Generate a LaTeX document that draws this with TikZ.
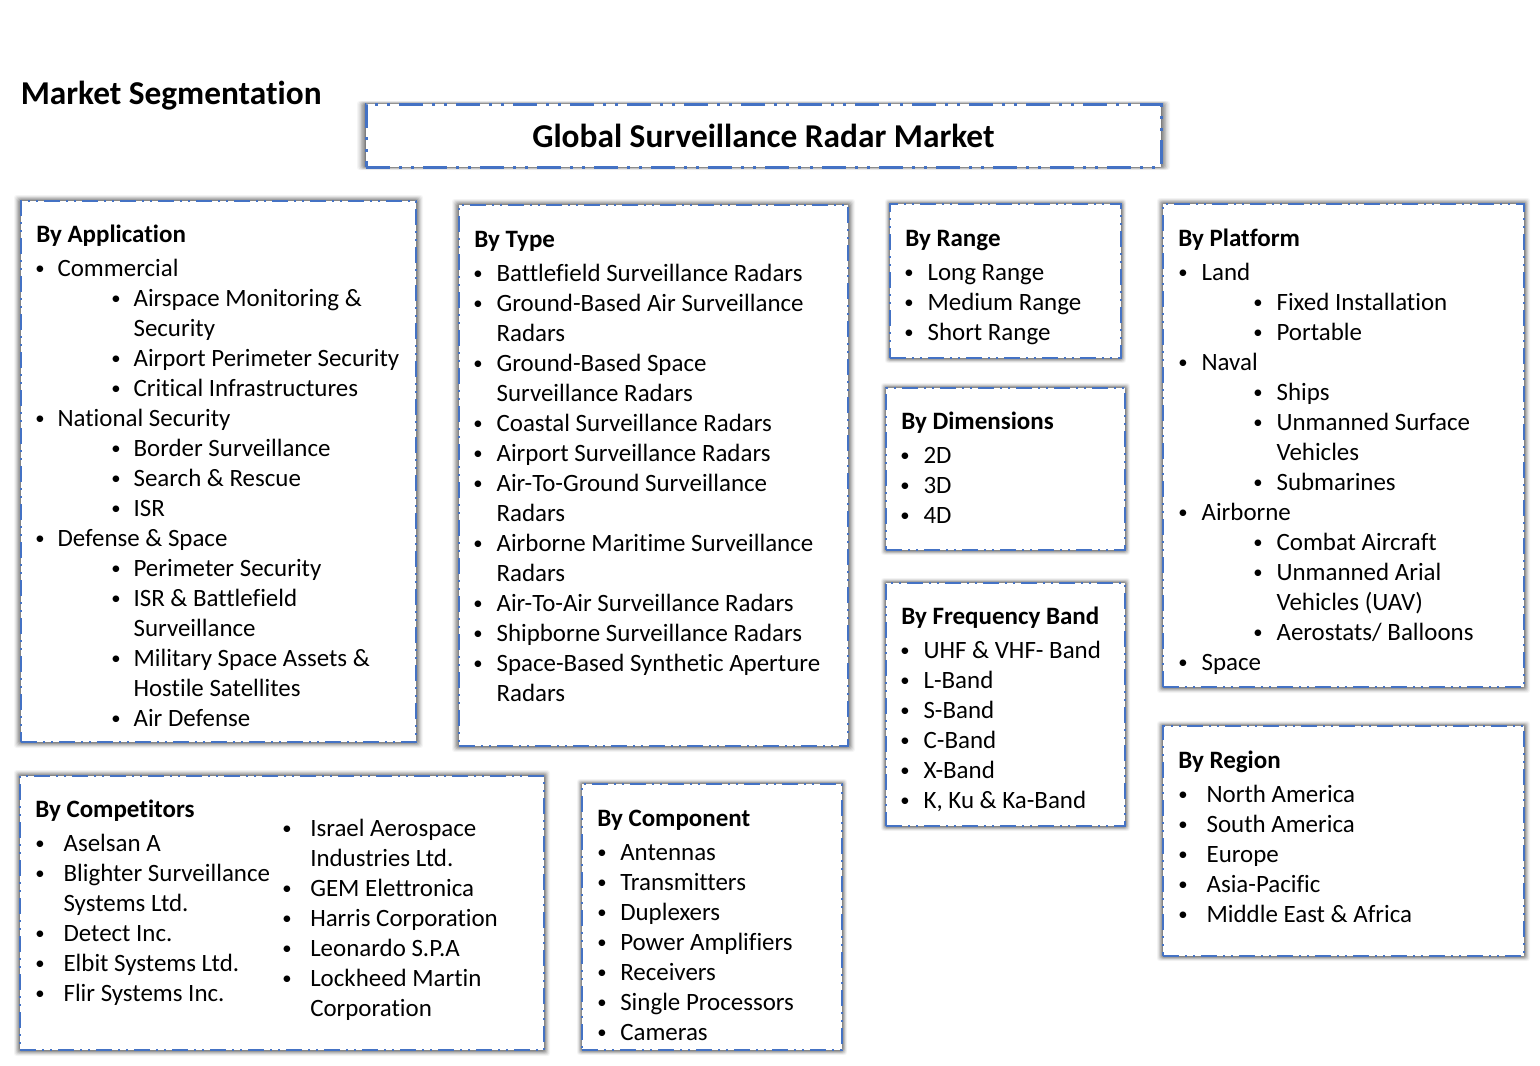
\documentclass[tikz,border=0pt]{standalone}
\usepackage{fontspec}
\setmainfont[Ligatures=NoCommon]{Carlito}
\usetikzlibrary{fit}
\definecolor{panelblue}{HTML}{4472C4}
\newcount\itemno
\tikzset{
  x=0.75pt,y=-0.75pt,
  panel/.style={draw=panelblue,fill=white,line width=1.5pt,inner sep=0pt,
    dash pattern=on 12pt off 4.5pt on 1.5pt off 4.5pt on 1.5pt off 4.5pt},
  title panel/.style={panel,line width=2.25pt,
    dash pattern=on 18pt off 6.75pt on 2.25pt off 6.75pt on 2.25pt off 6.75pt},
  line text/.style={anchor=base west,inner sep=0pt,font=\fontsize{18.7}{18.7}\selectfont},
  head text/.style={line text,font=\fontsize{18.75}{18.75}\selectfont\bfseries},
  big text/.style={anchor=base west,inner sep=0pt,font=\fontsize{25}{25}\selectfont\bfseries},
  dot/.style={anchor=base,inner sep=0pt,font=\fontsize{14}{14}\selectfont},
}
% #1 style, #2 name, #3-#6 corners, #7 #8 shadow reach across and down
\newcommand{\panelbox}[8]{%
  \foreach \r/\o in {1/0.04,0.85/0.06,0.7/0.08,0.55/0.10,0.4/0.12,0.25/0.13,0.1/0.14}{
    \fill[black,opacity=\o,rounded corners=2pt] ({#3-#7*\r},{#4-#8*\r}) rectangle ({#5+#7*\r},{#6+#8*\r});
  }
  \node[#1,fit={(#3,#4)(#5,#6)}] (#2) {};
}
\newcommand{\hd}[3]{\global\advance\itemno by 1
  \node[head text] (t\the\itemno) at (#1,#2+8) {#3};}
\newcommand{\li}[4]{\global\advance\itemno by 1
  \node[dot] (b\the\itemno) at (#1,#3+6) {•};
  \node[line text] (t\the\itemno) at (#2-0.7,#3+8) {#4};}
\newcommand{\co}[3]{\global\advance\itemno by 1
  \node[line text] (t\the\itemno) at (#1-0.7,#2+8) {#3};}
\begin{document}
\begin{tikzpicture}
\useasboundingbox (0,0) rectangle (1540,1065);
\panelbox{title panel}{title}{366}{104}{1161}{167}{9}{3}
\panelbox{panel}{app}{21}{201}{416}{742}{7}{6}
\panelbox{panel}{type}{459}{205}{848}{746}{7}{6}
\panelbox{panel}{range}{890}{204}{1121}{358}{5}{5}
\panelbox{panel}{dims}{886}{388}{1125}{550}{5}{5}
\panelbox{panel}{freq}{886}{583}{1125}{826}{5}{5}
\panelbox{panel}{platform}{1163}{204}{1524}{687}{6}{6}
\panelbox{panel}{region}{1163}{726}{1524}{956}{6}{5}
\panelbox{panel}{comp}{20}{776}{544}{1050}{6}{6}
\panelbox{panel}{parts}{582}{784}{842}{1050}{5}{5}

\node[big text] (seg) at (20.5,104) {Market Segmentation};
\node[big text] (main) at (532,147) {Global Surveillance Radar Market};

\hd{36}{234}{By Application}
\li{40}{58}{268}{Commercial}
\li{116}{134}{298}{Airspace Monitoring \&}
\co{134}{328}{Security}
\li{116}{134}{358}{Airport Perimeter Security}
\li{116}{134}{388}{Critical Infrastructures}
\li{40}{58}{418}{National Security}
\li{116}{134}{448}{Border Surveillance}
\li{116}{134}{478}{Search \& Rescue}
\li{116}{134}{508}{ISR}
\li{40}{58}{538}{Defense \& Space}
\li{116}{134}{568}{Perimeter Security}
\li{116}{134}{598}{ISR \& Battlefield}
\co{134}{628}{Surveillance}
\li{116}{134}{658}{Military Space Assets \&}
\co{134}{688}{Hostile Satellites}
\li{116}{134}{718}{Air Defense}

\hd{474}{239}{By Type}
\li{478}{497}{273}{Battlefield Surveillance Radars}
\li{478}{497}{303}{Ground-Based Air Surveillance}
\co{497}{333}{Radars}
\li{478}{497}{363}{Ground-Based Space}
\co{497}{393}{Surveillance Radars}
\li{478}{497}{423}{Coastal Surveillance Radars}
\li{478}{497}{453}{Airport Surveillance Radars}
\li{478}{497}{483}{Air-To-Ground Surveillance}
\co{497}{513}{Radars}
\li{478}{497}{543}{Airborne Maritime Surveillance}
\co{497}{573}{Radars}
\li{478}{497}{603}{Air-To-Air Surveillance Radars}
\li{478}{497}{633}{Shipborne Surveillance Radars}
\li{478}{497}{663}{Space-Based Synthetic Aperture}
\co{497}{693}{Radars}

\hd{905}{238}{By Range}
\li{909}{928}{272}{Long Range}
\li{909}{928}{302}{Medium Range}
\li{909}{928}{332}{Short Range}

\hd{901}{421}{By Dimensions}
\li{905}{924}{455}{2D}
\li{905}{924}{485}{3D}
\li{905}{924}{515}{4D}

\hd{901}{616}{By Frequency Band}
\li{905}{924}{650}{UHF \& VHF- Band}
\li{905}{924}{680}{L-Band}
\li{905}{924}{710}{S-Band}
\li{905}{924}{740}{C-Band}
\li{905}{924}{770}{X-Band}
\li{905}{924}{800}{K, Ku \& Ka-Band}

\hd{1178}{238}{By Platform}
\li{1183}{1202}{272}{Land}
\li{1258}{1277}{302}{Fixed Installation}
\li{1258}{1277}{332}{Portable}
\li{1183}{1202}{362}{Naval}
\li{1258}{1277}{392}{Ships}
\li{1258}{1277}{422}{Unmanned Surface}
\co{1277}{452}{Vehicles}
\li{1258}{1277}{482}{Submarines}
\li{1183}{1202}{512}{Airborne}
\li{1258}{1277}{542}{Combat Aircraft}
\li{1258}{1277}{572}{Unmanned Arial}
\co{1277}{602}{Vehicles (UAV)}
\li{1258}{1277}{632}{Aerostats/ Balloons}
\li{1183}{1202}{662}{Space}

\hd{1178}{760}{By Region}
\li{1183}{1207}{794}{North America}
\li{1183}{1207}{824}{South America}
\li{1183}{1207}{854}{Europe}
\li{1183}{1207}{884}{Asia-Pacific}
\li{1183}{1207}{914}{Middle East \& Africa}

\hd{35}{809}{By Competitors}
\li{40}{64}{843}{Aselsan A}
\li{40}{64}{873}{Blighter Surveillance}
\co{64}{903}{Systems Ltd.}
\li{40}{64}{933}{Detect Inc.}
\li{40}{64}{963}{Elbit Systems Ltd.}
\li{40}{64}{993}{Flir Systems Inc.}
\li{287}{310.7}{828}{Israel Aerospace}
\co{310.7}{858}{Industries Ltd.}
\li{287}{310.7}{888}{GEM Elettronica}
\li{287}{310.7}{918}{Harris Corporation}
\li{287}{310.7}{948}{Leonardo S.P.A}
\li{287}{310.7}{978}{Lockheed Martin}
\co{310.7}{1008}{Corporation}

\hd{597}{818}{By Component}
\li{602}{620.7}{852}{Antennas}
\li{602}{620.7}{882}{Transmitters}
\li{602}{620.7}{912}{Duplexers}
\li{602}{620.7}{942}{Power Amplifiers}
\li{602}{620.7}{972}{Receivers}
\li{602}{620.7}{1002}{Single Processors}
\li{602}{620.7}{1032}{Cameras}
\end{tikzpicture}
\end{document}
